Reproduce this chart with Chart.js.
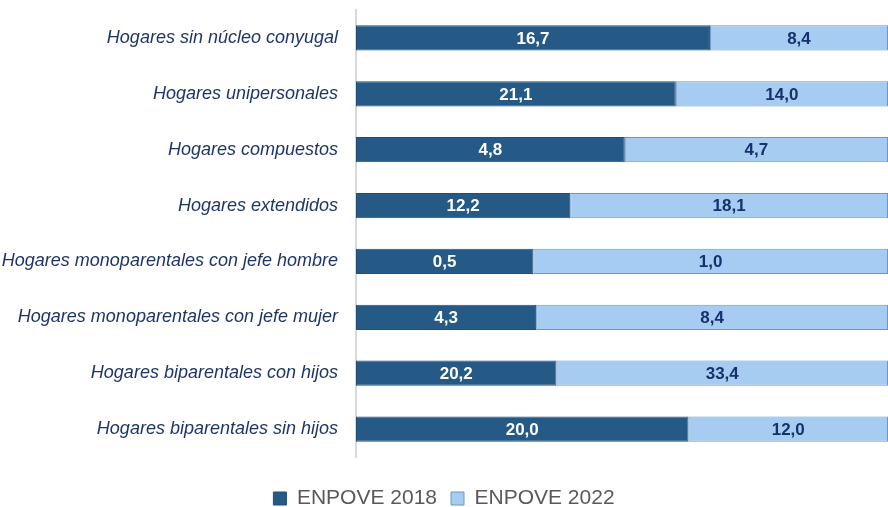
<!DOCTYPE html>
<html>
<head>
<meta charset="utf-8">
<script src="https://cdn.jsdelivr.net/npm/chart.js@4.4.1/dist/chart.umd.min.js"></script>
<style>
  html, body { margin: 0; padding: 0; background: #fff; }
  #wrap { width: 888px; height: 507px; }
</style>
</head>
<body>
<div id="wrap"><canvas id="hogaresChart" width="888" height="507"></canvas></div>
<script>
// categorías (de arriba a abajo)
const categorias = [
    'Hogares sin núcleo conyugal',
    'Hogares unipersonales',
    'Hogares compuestos',
    'Hogares extendidos',
    'Hogares monoparentales con jefe hombre',
    'Hogares monoparentales con jefe mujer',
    'Hogares biparentales con hijos',
    'Hogares biparentales sin hijos'
];
const enpove2018 = [16.7, 21.1, 4.8, 12.2, 0.5, 4.3, 20.2, 20.0];
const enpove2022 = [8.4, 14.0, 4.7, 18.1, 1.0, 8.4, 33.4, 12.0];
const series = ['ENPOVE 2018', 'ENPOVE 2022'];

const FONT = "'Liberation Sans Narrow', 'Arial Narrow', 'Liberation Sans', Arial, sans-serif";

// barras apiladas al 100%
const pct = (a, b) => a.map((v, i) => v / (v + b[i]) * 100);
const share2018 = pct(enpove2018, enpove2022);
const share2022 = pct(enpove2022, enpove2018);

const fmt = v => v.toFixed(1).replace('.', ',');

// etiquetas de valor dentro de cada segmento
const valueLabels = {
    id: 'valueLabels',
    afterDatasetsDraw(chart) {
        const ctx = chart.ctx;
        const raw = [enpove2018, enpove2022];
        const colors = ['#ffffff', '#16316b'];
        ctx.save();
        ctx.font = 'bold 17px ' + FONT;
        ctx.textAlign = 'center';
        ctx.textBaseline = 'middle';
        chart.data.datasets.forEach((ds, di) => {
            const meta = chart.getDatasetMeta(di);
            meta.data.forEach((el, i) => {
                const x = (el.x + el.base) / 2;
                ctx.fillStyle = colors[di];
                ctx.fillText(fmt(raw[di][i]), x, el.y + 1);
            });
        });
        ctx.restore();
    }
};

let hogaresChart;

function renderChart() {
    const ctx = document.getElementById('hogaresChart').getContext('2d');

    hogaresChart = new Chart(ctx, {
        type: 'bar',
        data: {
            labels: categorias,
            datasets: [
                {
                    label: series[0],
                    data: share2018,
                    backgroundColor: '#255a86',
                    borderColor: '#1f4f78',
                    borderWidth: 1,
                    borderSkipped: false,
                    barPercentage: 0.45,
                    categoryPercentage: 1
                },
                {
                    label: series[1],
                    data: share2022,
                    backgroundColor: '#a6cdf1',
                    borderColor: '#6b98c4',
                    borderWidth: 1,
                    borderSkipped: false,
                    barPercentage: 0.45,
                    categoryPercentage: 1
                }
            ]
        },
        options: {
            indexAxis: 'y',
            responsive: false,
            animation: false,
            layout: { padding: { top: 10, right: 0, left: 0, bottom: -12 } },
            scales: {
                x: {
                    stacked: true,
                    min: 0,
                    max: 100,
                    ticks: { display: false },
                    grid: { display: false, drawTicks: false },
                    border: { display: false },
                    afterFit(scale) { scale.height = 17; }
                },
                y: {
                    stacked: true,
                    grid: { display: false, drawTicks: false },
                    border: { display: true, color: '#d9d9d9', width: 2 },
                    ticks: {
                        padding: 18,
                        color: '#1f3568',
                        font: { family: FONT, size: 18, style: 'italic' }
                    },
                    afterFit(scale) {
                        scale.width = 356;
                        scale.paddingTop = 0;
                        scale.paddingBottom = 0;
                    }
                }
            },
            plugins: {
                legend: {
                    position: 'bottom',
                    labels: {
                        boxWidth: 13,
                        boxHeight: 13,
                        padding: 14,
                        color: '#595959',
                        font: { family: FONT, size: 21, lineHeight: 1 }
                    }
                },
                tooltip: { enabled: false }
            }
        },
        plugins: [valueLabels]
    });
}

renderChart();
</script>
</body>
</html>
